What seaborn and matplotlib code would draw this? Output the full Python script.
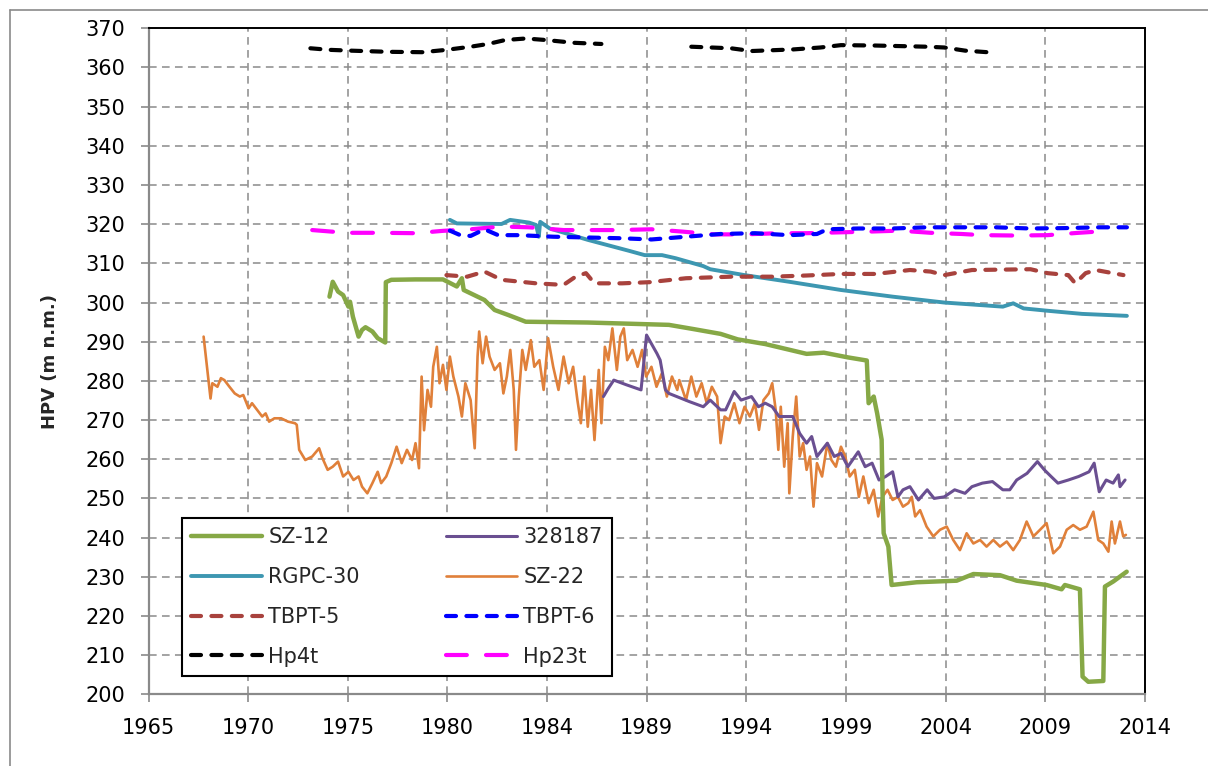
import numpy as np
import pandas as pd
import matplotlib
matplotlib.use("Agg")
import matplotlib.pyplot as plt
from matplotlib.lines import Line2D
import seaborn as sns

# ---------------- data ----------------
x_tick_labels = ["1965", "1970", "1975", "1980", "1984", "1989", "1994", "1999", "2004", "2009", "2014"]

sz12_year = [1973.9, 1974.06, 1974.32, 1974.57, 1974.83, 1974.91, 1975.05, 1975.33, 1975.5, 1975.67, 1976.01,
             1976.27, 1976.64, 1976.67, 1976.94, 1978.13, 1979.48, 1980.16, 1980.41, 1980.5, 1981.18, 1981.52,
             1982.02, 1982.7, 1983.55, 1986.6, 1990.59, 1991.77, 1993.13, 1993.97, 1995.33, 1997.36, 1998.21,
             1999.39, 2000.32, 2000.41, 2000.66, 2000.83, 2001.05, 2001.1, 2001.15, 2001.38, 2001.54, 2002.77,
             2004.74, 2005.56, 2006.87, 2007.69, 2009.16, 2009.9, 2010.06, 2010.8, 2010.93, 2011.21, 2011.95,
             2012.03, 2012.44, 2013.1]
sz12_hpv = [301.5, 305.3, 302.8, 301.9, 298.95, 300.2, 296.4, 291.3, 293.0, 293.7, 292.6,
            290.9, 289.8, 305.2, 305.8, 305.9, 305.9, 304.1, 306.2, 303.2, 301.5, 300.65,
            298.1, 296.8, 295.1, 294.9, 294.3, 293.25, 292.0, 290.6, 289.4, 286.9, 287.2,
            286.0, 285.2, 274.3, 276.0, 271.7, 265.0, 250.0, 241.1, 237.7, 227.9, 228.6,
            229.0, 230.7, 230.4, 229.0, 227.9, 226.8, 227.9, 226.8, 204.5, 203.2, 203.4,
            227.5, 228.8, 231.3]

p328187_year = [1987.37, 1987.6, 1987.88, 1988.5, 1989.22, 1989.49, 1990.0, 1990.16, 1990.42, 1990.59, 1991.6,
                1992.28, 1992.62, 1993.13, 1993.38, 1993.8, 1994.14, 1994.65, 1994.99, 1995.33, 1995.67, 1996.01,
                1996.68, 1997.02, 1997.36, 1997.61, 1997.87, 1998.38, 1998.72, 1999.05, 1999.39, 1999.9, 2000.24,
                2000.58, 2000.92, 2001.25, 2001.59, 2001.85, 2002.1, 2002.44, 2002.86, 2003.29, 2003.63, 2004.13,
                2004.64, 2005.15, 2005.49, 2006.0, 2006.5, 2007.01, 2007.35, 2007.69, 2008.2, 2008.71, 2009.05,
                2009.38, 2009.72, 2010.23, 2010.74, 2011.25, 2011.5, 2011.75, 2012.09, 2012.43, 2012.69, 2012.77,
                2013.02]
p328187_hpv = [276.0, 278.0, 280.2, 279.0, 277.7, 291.7, 287.0, 285.3, 277.7, 276.8, 274.7,
               273.4, 275.1, 272.6, 272.6, 277.3, 275.1, 276.0, 273.4, 274.3, 273.4, 270.9,
               270.9, 266.6, 264.1, 265.8, 260.7, 264.1, 260.7, 261.5, 258.1, 261.9, 258.1,
               259.0, 254.7, 255.6, 256.8, 250.4, 252.2, 253.0, 249.6, 252.2, 250.0, 250.4,
               252.2, 251.3, 253.0, 253.9, 254.3, 252.2, 252.2, 254.7, 256.4, 259.4, 257.3,
               255.6, 253.9, 254.7, 255.6, 256.8, 259.0, 251.7, 254.7, 253.9, 256.0, 253.0,
               254.7]

rgpc30_year = [1979.82, 1980.16, 1982.36, 1982.78, 1983.72, 1984.06, 1984.19, 1984.26, 1984.73, 1986.6, 1988.63,
               1989.4, 1990.25, 1990.93, 1992.28, 1992.62, 1994.31, 1996.51, 1999.05, 2001.59, 2004.13, 2007.01,
               2007.52, 2008.03, 2009.21, 2010.91, 2013.11]
rgpc30_hpv = [321.1, 320.2, 320.05, 321.1, 320.4, 319.8, 316.8, 320.6, 318.9, 316.0, 313.2,
              312.1, 312.1, 311.3, 309.3, 308.5, 307.0, 305.3, 303.2, 301.5, 300.0, 298.95,
              299.8, 298.5, 297.9, 297.1, 296.6]

sz22_year = [1967.71, 1968.05, 1968.14, 1968.39, 1968.56, 1968.73, 1968.98, 1969.24, 1969.49, 1969.66, 1969.92,
             1970.09, 1970.34, 1970.59, 1970.76, 1970.93, 1971.19, 1971.52, 1971.86, 1972.2, 1972.29, 1972.41,
             1972.71, 1973.05, 1973.39, 1973.56, 1973.81, 1974.06, 1974.32, 1974.57, 1974.83, 1975.08, 1975.33,
             1975.5, 1975.76, 1976.01, 1976.27, 1976.44, 1976.69, 1976.94, 1977.2, 1977.45, 1977.71, 1977.96,
             1978.13, 1978.3, 1978.43, 1978.55, 1978.72, 1978.89, 1979.0, 1979.18, 1979.31, 1979.48, 1979.65,
             1979.82, 1979.99, 1980.24, 1980.41, 1980.58, 1980.84, 1981.04, 1981.18, 1981.26, 1981.43, 1981.6,
             1981.77, 1982.02, 1982.28, 1982.45, 1982.62, 1982.79, 1982.96, 1983.07, 1983.21, 1983.38, 1983.55,
             1983.8, 1983.97, 1984.22, 1984.43, 1984.65, 1984.9, 1985.16, 1985.41, 1985.66, 1985.88, 1986.09,
             1986.26, 1986.43, 1986.6, 1986.76, 1986.93, 1987.14, 1987.27, 1987.44, 1987.61, 1987.81, 1988.03,
             1988.2, 1988.37, 1988.54, 1988.8, 1989.05, 1989.27, 1989.47, 1989.73, 1989.98, 1990.24, 1990.49,
             1990.74, 1991.0, 1991.1, 1991.43, 1991.69, 1991.94, 1992.2, 1992.45, 1992.7, 1992.96, 1993.13,
             1993.33, 1993.55, 1993.8, 1994.06, 1994.31, 1994.57, 1994.82, 1995.02, 1995.24, 1995.5, 1995.67,
             1995.84, 1995.97, 1996.09, 1996.26, 1996.43, 1996.51, 1996.68, 1996.85, 1997.02, 1997.19, 1997.36,
             1997.53, 1997.7, 1997.87, 1998.12, 1998.38, 1998.58, 1998.8, 1999.05, 1999.26, 1999.48, 1999.73,
             1999.93, 2000.15, 2000.41, 2000.66, 2000.88, 2001.09, 2001.34, 2001.59, 2001.85, 2002.1, 2002.36,
             2002.53, 2002.7, 2002.94, 2003.26, 2003.59, 2003.92, 2004.25, 2004.57, 2004.9, 2005.23, 2005.56,
             2005.89, 2006.21, 2006.54, 2006.87, 2007.2, 2007.52, 2007.85, 2008.18, 2008.51, 2008.84, 2009.16,
             2009.49, 2009.82, 2010.15, 2010.47, 2010.8, 2011.13, 2011.46, 2011.7, 2011.95, 2012.2, 2012.36,
             2012.52, 2012.77, 2012.93, 2013.06]
sz22_hpv = [291.3, 275.5, 279.4, 278.5, 280.7, 280.2, 278.5, 276.8, 276.0, 276.4, 273.0,
            274.3, 272.6, 270.9, 271.7, 269.6, 270.45, 270.45, 269.6, 269.2, 268.8, 262.4,
            259.8, 260.7, 262.8, 260.2, 257.3, 258.1, 259.4, 255.6, 256.8, 254.7, 255.6,
            253.0, 251.3, 253.9, 256.8, 253.9, 255.6, 259.0, 263.2, 259.0, 262.4, 259.8,
            264.1, 257.7, 281.1, 267.4, 277.7, 273.4, 283.6, 288.7, 279.4, 284.1, 277.7,
            286.2, 281.1, 276.0, 270.9, 279.4, 275.1, 262.8, 286.2, 292.6, 284.5, 291.3,
            286.2, 282.8, 284.5, 276.8, 281.1, 287.9, 277.7, 262.4, 276.0, 287.9, 282.8,
            290.4, 283.6, 285.3, 277.7, 290.9, 283.6, 277.7, 286.2, 279.4, 283.6, 275.1,
            269.2, 281.1, 268.3, 277.7, 264.9, 282.8, 269.2, 288.7, 285.3, 293.4, 282.8,
            291.3, 293.4, 285.3, 287.9, 283.6, 287.9, 281.1, 283.6, 278.5, 281.9, 276.0,
            281.1, 277.7, 280.2, 275.1, 281.1, 276.0, 279.4, 274.3, 278.5, 276.0, 264.1,
            270.9, 270.0, 274.3, 269.2, 273.4, 270.9, 274.3, 267.5, 275.1, 276.8, 279.4,
            272.6, 262.4, 273.4, 258.1, 269.2, 251.3, 265.8, 276.0, 260.7, 264.1, 257.3,
            260.7, 247.9, 259.0, 255.6, 264.1, 259.8, 258.1, 263.2, 260.7, 255.6, 257.3,
            250.4, 255.6, 248.8, 252.2, 245.4, 250.4, 252.2, 249.6, 250.4, 247.9, 248.8,
            250.4, 245.4, 247.0, 242.8, 240.3, 242.0, 242.8, 239.4, 236.8, 241.1, 238.5,
            239.4, 237.7, 239.4, 237.7, 239.0, 236.8, 239.4, 244.1, 240.3, 242.0, 243.7,
            236.0, 237.7, 242.0, 243.2, 242.0, 242.8, 246.6, 239.4, 238.5, 236.4, 244.1,
            238.5, 244.1, 240.3, 240.7]

tbpt5_year = [1979.65, 1980.67, 1981.52, 1982.36, 1984.06, 1985.41, 1986.0, 1986.51, 1986.93, 1988.29, 1989.64,
              1991.43, 1993.64, 1995.67, 1997.36, 1999.05, 2000.75, 2002.44, 2003.46, 2004.13, 2005.49, 2008.37,
              2009.21, 2010.23, 2010.57, 2011.08, 2011.58, 2012.94]
tbpt5_hpv = [307.0, 306.6, 307.9, 305.8, 304.9, 304.5, 306.6, 307.5, 304.9, 304.9, 305.2,
             306.2, 306.6, 306.6, 306.9, 307.3, 307.3, 308.3, 307.9, 307.0, 308.3, 308.5,
             307.5, 307.0, 304.9, 307.5, 308.3, 307.0]

tbpt6_year = [1979.82, 1980.33, 1980.84, 1981.52, 1982.19, 1983.21, 1984.9, 1986.6, 1988.29, 1989.74, 1991.43,
              1993.13, 1994.82, 1996.51, 1997.87, 1998.38, 1999.9, 2001.59, 2003.29, 2004.98, 2006.67, 2008.37,
              2010.06, 2011.75, 2013.11]
tbpt6_hpv = [318.35, 317.2, 317.0, 318.7, 317.2, 317.2, 316.8, 316.6, 316.4, 316.1, 316.8,
             317.5, 317.7, 317.2, 317.5, 318.7, 318.9, 318.9, 319.2, 319.2, 319.2, 318.9,
             319.0, 319.2, 319.2]

hp4t_year = [1972.96, 1973.9, 1974.91, 1976.77, 1978.47, 1979.65, 1980.84, 1981.7, 1982.53, 1983.55, 1984.56,
             1985.92, 1987.27,
             1991.69, 1993.64, 1994.65, 1996.68, 1998.04, 1999.05, 2000.75, 2003.29, 2004.13, 2005.15, 2006.25]
hp4t_hpv = [364.9, 364.5, 364.3, 364.0, 363.9, 364.5, 365.3, 366.0, 367.0, 367.4, 367.0,
            366.3, 366.0,
            365.3, 364.9, 364.2, 364.6, 365.1, 365.7, 365.6, 365.3, 365.1, 364.3, 363.9]
hp4t_seg = [1] * 13 + [2] * 11

hp23t_year = [1973.05, 1974.74, 1976.43, 1978.13, 1979.48, 1980.84, 1982.36, 1983.72, 1985.41, 1986.93, 1988.05,
              1989.74, 1991.27, 1992.79, 1994.31, 1996.01, 1997.36, 1998.88, 2000.41, 2001.93, 2003.46, 2004.98,
              2006.0, 2007.69, 2009.21, 2010.74, 2012.09]
hp23t_hpv = [318.5, 317.8, 317.8, 317.7, 318.3, 318.7, 319.4, 319.2, 318.5, 318.5, 318.5,
             318.7, 318.1, 317.4, 317.4, 317.7, 317.7, 317.9, 318.1, 318.35, 317.8, 317.5,
             317.2, 317.1, 317.2, 317.8, 318.25]

# ---------------- style ----------------
sns.set_theme(style="white")
plt.rcParams["font.family"] = ["DejaVu Sans"]

W, H = 1208, 766
fig = plt.figure(figsize=(W / 100, H / 100), dpi=100)
ax = fig.add_axes([148.5 / W, 1 - 694.3 / H, (1145 - 148.5) / W, (694.3 - 28.3) / H])

GRAY = "#8a8a8a"
C_SZ12 = "#86a846"
C_328 = "#6a4f91"
C_RGPC = "#3d97b1"
C_SZ22 = "#e0803a"
C_T5 = "#a8423d"
C_T6 = "#0000ff"
C_HP4 = "#000000"
C_HP23 = "#ff00ff"

def draw(year, hpv, color, lw, dashes=None, units=None, zorder=2):
    df = pd.DataFrame({"year": year, "hpv": hpv})
    n0 = len(ax.lines)
    if units is not None:
        df["seg"] = units
        sns.lineplot(data=df, x="year", y="hpv", units="seg", estimator=None, sort=False,
                     color=color, lw=lw, ax=ax, zorder=zorder)
    else:
        sns.lineplot(data=df, x="year", y="hpv", estimator=None, sort=False,
                     color=color, lw=lw, ax=ax, zorder=zorder)
    for ln in ax.lines[n0:]:
        ln.set_solid_joinstyle("round")
        ln.set_solid_capstyle("round")
        if dashes is not None:
            ln.set_linestyle((0, dashes))
            ln.set_dash_capstyle("round")

DASH = (2.4, 2.5)
LONGDASH = (5.0, 4.6)

draw(sz22_year, sz22_hpv, C_SZ22, 1.9, zorder=2)
draw(p328187_year, p328187_hpv, C_328, 2.2, zorder=3)
draw(sz12_year, sz12_hpv, C_SZ12, 3.2, zorder=4)
draw(rgpc30_year, rgpc30_hpv, C_RGPC, 2.8, zorder=5)
draw(tbpt5_year, tbpt5_hpv, C_T5, 3.0, dashes=DASH, zorder=6)
draw(hp23t_year, hp23t_hpv, C_HP23, 3.0, dashes=LONGDASH, zorder=7)
draw(tbpt6_year, tbpt6_hpv, C_T6, 3.0, dashes=DASH, zorder=8)
draw(hp4t_year, hp4t_hpv, C_HP4, 3.0, dashes=DASH, units=hp4t_seg, zorder=9)

# ---------------- axes ----------------
ax.set_xlim(1965, 2014)
ax.set_ylim(200, 370)
ax.set_xticks(np.linspace(1965, 2014, len(x_tick_labels)))
ax.set_xticklabels(x_tick_labels)
ax.set_yticks(np.arange(200, 371, 10))
ax.set_xlabel("")
ax.set_ylabel("HPV (m n.m.)", fontsize=13, fontweight="bold", labelpad=19)
ax.tick_params(axis="both", labelsize=15, colors="black", length=6, width=1.2,
               direction="out", pad=11)
ax.tick_params(axis="both", color=GRAY)
ax.tick_params(axis="x", bottom=True)
ax.tick_params(axis="y", left=True)

ax.set_axisbelow(True)
ax.grid(True, color=GRAY, linestyle=(0, (5, 3.5)), linewidth=1.1)

for side in ["left", "bottom"]:
    ax.spines[side].set_color(GRAY)
    ax.spines[side].set_linewidth(1.6)
for side in ["top", "right"]:
    ax.spines[side].set_color("black")
    ax.spines[side].set_linewidth(1.4)
for s in ax.spines.values():
    s.set_zorder(10)

# ---------------- legend ----------------
handles = [
    Line2D([], [], color=C_SZ12, lw=3.2, solid_capstyle="round"),
    Line2D([], [], color=C_RGPC, lw=2.8, solid_capstyle="round"),
    Line2D([], [], color=C_T5, lw=3.0, linestyle=(0, DASH), dash_capstyle="round"),
    Line2D([], [], color=C_HP4, lw=3.0, linestyle=(0, DASH), dash_capstyle="round"),
    Line2D([], [], color=C_328, lw=2.2, solid_capstyle="round"),
    Line2D([], [], color=C_SZ22, lw=1.9, solid_capstyle="round"),
    Line2D([], [], color=C_T6, lw=3.0, linestyle=(0, DASH), dash_capstyle="round"),
    Line2D([], [], color=C_HP23, lw=3.0, linestyle=(0, LONGDASH), dash_capstyle="round"),
]
labels = ["SZ-12", "RGPC-30", "TBPT-5", "Hp4t", "328187", "SZ-22", "TBPT-6", "Hp23t"]
x0 = (181.7 - 148.5) / 996.5
w = (612 - 181.7) / 996.5
y0 = (694.3 - 676) / 666
leg = ax.legend(handles, labels, ncol=2, loc="lower left", bbox_to_anchor=(x0, y0, w, 0.3),
                mode="expand", borderaxespad=0, fontsize=15, frameon=True, fancybox=False,
                handlelength=3.4, handletextpad=0.3, labelspacing=0.95, borderpad=0.45,
                columnspacing=2.0)
frame = leg.get_frame()
frame.set_edgecolor("black")
frame.set_linewidth(1.5)
frame.set_facecolor("white")
frame.set_alpha(1)
leg.set_zorder(20)

# ---------------- outer chart border ----------------
fig.add_artist(Line2D([10 / W, 10 / W], [0, 1 - 10 / H], transform=fig.transFigure, color=GRAY, lw=1.2))
fig.add_artist(Line2D([10 / W, 1], [1 - 10 / H, 1 - 10 / H], transform=fig.transFigure, color=GRAY, lw=1.2))

fig.savefig("out.png", dpi=100)
